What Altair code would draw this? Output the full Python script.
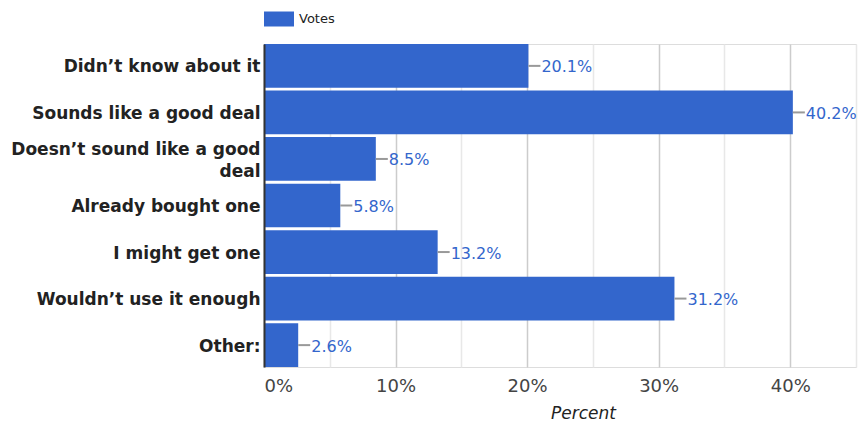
import altair as alt
import pandas as pd

categories = [
    "Didn’t know about it",
    "Sounds like a good deal",
    "Doesn’t sound like a good deal",
    "Already bought one",
    "I might get one",
    "Wouldn’t use it enough",
    "Other:",
]
values = [20.1, 40.2, 8.5, 5.8, 13.2, 31.2, 2.6]
series_name = "Votes"
x_ticks = [0, 5, 10, 15, 20, 25, 30, 35, 40, 45]
wrapped = {"Doesn’t sound like a good deal": ["Doesn’t sound like a good", "deal"]}

df = pd.DataFrame({"answer": categories, "percent": values})
df["series"] = series_name
df["label"] = [f"{v:.1f}%" for v in values]

FONT = "DejaVu Sans"

wrap_expr = " : ".join(
    [f"datum.label == '{k}' ? {v!r}" for k, v in wrapped.items()] + ["datum.label"]
)
wrap_test = " || ".join([f"datum.label == '{k}'" for k in wrapped])

y_enc = alt.Y(
    "answer:N",
    sort=categories,
    scale=alt.Scale(paddingInner=0.06, paddingOuter=0.0),
    axis=alt.Axis(
        title=None,
        labelFont=FONT,
        labelFontWeight="bold",
        labelFontSize=17,
        labelColor="#222222",
        labelPadding=4,
        labelLimit=400,
        labelLineHeight=22,
        labelExpr=wrap_expr,
        labelOffset={"condition": {"test": wrap_test, "value": -9}, "value": 1.5},
        ticks=False,
        domain=True,
        domainColor="#333333",
        domainWidth=2,
        minExtent=256,
        maxExtent=256,
        zindex=2,
    ),
)

x_enc = alt.X(
    "percent:Q",
    scale=alt.Scale(domain=[0, 45], nice=False),
    axis=alt.Axis(
        values=x_ticks,
        labelExpr="datum.value % 10 === 0 ? datum.value + '%' : ''",
        gridColor={"condition": {"test": "datum.value % 10 === 0", "value": "#cccccc"}, "value": "#e8e8e8"},
        gridWidth=1.5,
        ticks=False,
        domain=False,
        labelFont=FONT,
        labelFontSize=18,
        labelColor="#444444",
        labelPadding=10,
        title="Percent",
        titleFont=FONT,
        titleFontStyle="italic",
        titleFontWeight="normal",
        titleFontSize=17,
        titleColor="#222222",
        titleX=319,
        titleAlign="center",
        titlePadding=10,
    ),
)

base = alt.Chart(df)

bars = base.mark_bar(color="#3366cc").encode(
    x=x_enc,
    y=y_enc,
    color=alt.Color(
        "series:N",
        scale=alt.Scale(range=["#3366cc"]),
        legend=alt.Legend(
            title=None,
            orient="none",
            legendX=0,
            legendY=-40,
            symbolType="M-1,-0.5H1V0.5H-1Z",
            symbolSize=900,
            symbolStrokeWidth=0,
            symbolOpacity=1,
            labelFont=FONT,
            labelFontSize=13,
            labelColor="#222222",
            labelOffset=5,
        ),
    ),
)

leaders = base.mark_rule(color="#999999", strokeWidth=2, x2Offset=12).encode(
    x="percent:Q",
    x2="percent:Q",
    y=alt.Y("answer:N", sort=categories),
)

labels = base.mark_text(
    align="left", baseline="middle", dx=13, dy=1.5, fontSize=16, font=FONT, color="#3366cc"
).encode(
    x="percent:Q",
    y=alt.Y("answer:N", sort=categories),
    text="label:N",
)

chart = (
    alt.layer(bars, leaders, labels)
    .properties(
        width=592,
        height=323,
        autosize=alt.AutoSizeParams(type="none"),
        padding={"left": 256, "top": 36, "right": 3, "bottom": 56},
        background="white",
    )
    .configure_view(stroke=None)
    .configure(font=FONT)
)

chart.save("out.html", embed_options={"renderer": "svg", "actions": False})
